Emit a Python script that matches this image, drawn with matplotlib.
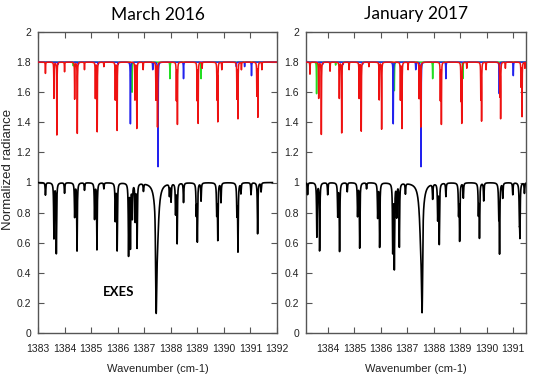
import numpy as np
import matplotlib
matplotlib.use("Agg")
import matplotlib.pyplot as plt

# ---------------- data ----------------
panel_titles = ["March 2016", "January 2017"]
xlims = [(1383.0, 1392.0), (1383.17, 1391.49)]
xticks_l = [1383, 1384, 1385, 1386, 1387, 1388, 1389, 1390, 1391, 1392]
xticks_r = [1384, 1385, 1386, 1387, 1388, 1389, 1390, 1391]
yticks = [0, 0.2, 0.4, 0.6, 0.8, 1, 1.2, 1.4, 1.6, 1.8, 2]
ytick_labels = ["0", "0.2", "0.4", "0.6", "0.8", "1", "1.2", "1.4", "1.6", "1.8", "2"]
exes_range = [(1383.0, 1391.83), (1383.17, 1391.49)]

# EXES observed spectra: line centres (cm-1) and line minima (normalized radiance)
mar_obs_pos = [1383.28, 1383.60, 1383.69, 1384.00, 1384.38, 1384.47, 1384.75, 1385.13,
               1385.22, 1385.48, 1385.91, 1385.98, 1386.41, 1386.48, 1386.55, 1386.66,
               1386.73, 1386.97, 1387.95, 1388.01, 1388.18, 1388.24, 1388.48, 1388.96,
               1389.00, 1389.14, 1389.73, 1389.77, 1389.89, 1390.49, 1390.53, 1390.64,
               1391.02, 1391.27, 1391.40]
mar_obs_min = [0.917, 0.63, 0.53, 0.93, 0.773, 0.547, 0.95, 0.76,
               0.555, 0.96, 0.75, 0.55, 0.518, 0.57, 0.77, 0.75,
               0.57, 0.95, 0.92, 0.88, 0.80, 0.60, 0.87, 0.80,
               0.615, 0.88, 0.80, 0.625, 0.87, 0.80, 0.547, 0.93,
               0.92, 0.66, 0.94]
mar_main = (1387.48, 0.50, 1387.45, 0.13)     # broad centre, broad min, core centre, core min

jan_obs_pos = [1383.23, 1383.58, 1383.685, 1383.99, 1384.37, 1384.44, 1384.73, 1385.12,
               1385.20, 1385.46, 1385.88, 1385.955, 1386.45, 1386.51, 1386.60, 1386.70,
               1386.93, 1387.96, 1388.15, 1388.21, 1388.46, 1388.94, 1388.98, 1389.12,
               1389.69, 1389.73, 1389.89, 1390.46, 1390.49, 1390.61, 1390.99, 1391.24,
               1391.26, 1391.43]
jan_obs_min = [0.92, 0.64, 0.545, 0.92, 0.78, 0.545, 0.94, 0.78,
               0.567, 0.96, 0.77, 0.57, 0.54, 0.43, 0.78, 0.575,
               0.93, 0.90, 0.76, 0.596, 0.91, 0.80, 0.62, 0.90,
               0.80, 0.64, 0.88, 0.80, 0.54, 0.90, 0.92, 0.78,
               0.667, 0.93]
jan_main = (1387.53, 0.49, 1387.56, 0.135)

# Model spectra (baseline 1.8): red, blue, green line lists (centre, minimum)
mar_red_pos = [1383.28, 1383.60, 1383.71, 1384.00, 1384.38, 1384.48, 1384.75, 1385.16,
               1385.23, 1385.48, 1385.91, 1385.98, 1386.65, 1386.72, 1386.96, 1387.44,
               1387.50, 1388.21, 1388.25, 1388.99, 1389.03, 1389.18, 1389.74, 1389.77,
               1389.92, 1390.49, 1390.53, 1390.66, 1391.24, 1391.28, 1391.43]
mar_red_min = [1.725, 1.56, 1.316, 1.736, 1.555, 1.327, 1.75, 1.56,
               1.338, 1.77, 1.55, 1.347, 1.55, 1.36, 1.75, 1.55,
               1.37, 1.55, 1.39, 1.55, 1.397, 1.76, 1.56, 1.41,
               1.75, 1.56, 1.427, 1.75, 1.58, 1.437, 1.75]
mar_blue_pos = [1383.75, 1384.52, 1385.27, 1386.02, 1386.48, 1387.32, 1387.52, 1388.48,
                1390.47, 1390.78, 1391.04]
mar_blue_min = [1.785, 1.785, 1.785, 1.785, 1.39, 1.75, 1.105, 1.69,
                1.77, 1.77, 1.71]
mar_green_pos = [1384.33, 1386.54, 1387.97, 1389.14]
mar_green_min = [1.775, 1.60, 1.69, 1.69]

jan_red_pos = [1383.32, 1383.65, 1383.75, 1384.08, 1384.43, 1384.52, 1384.80, 1385.18,
               1385.26, 1385.55, 1385.94, 1386.03, 1386.74, 1386.80, 1387.03, 1387.45,
               1387.51, 1388.25, 1388.29, 1389.03, 1389.06, 1389.25, 1389.78, 1389.81,
               1389.98, 1390.50, 1390.53, 1390.71, 1391.30, 1391.34, 1391.45]
jan_red_min = [1.72, 1.56, 1.32, 1.74, 1.56, 1.33, 1.75, 1.56,
               1.342, 1.77, 1.55, 1.355, 1.55, 1.36, 1.75, 1.56,
               1.37, 1.55, 1.39, 1.55, 1.40, 1.76, 1.56, 1.415,
               1.75, 1.58, 1.43, 1.76, 1.64, 1.44, 1.76]
jan_blue_pos = [1383.80, 1384.57, 1385.31, 1386.47, 1387.32, 1387.52, 1388.46, 1390.48,
                1391.01]
jan_blue_min = [1.785, 1.785, 1.785, 1.39, 1.75, 1.105, 1.69, 1.59,
                1.71]
jan_green_pos = [1383.57, 1384.29, 1386.51, 1387.96, 1389.10]
jan_green_min = [1.59, 1.78, 1.61, 1.69, 1.69]

BASE_OBS = 1.0
BASE_MOD = 1.8
W_OBS = 0.012   # Lorentz half widths (cm-1)
W_MOD = 0.006
W_BROAD = 0.065
S_CORE = 0.018


def lorentz(x, c, g):
    return g * g / ((x - c) ** 2 + g * g)


def spectrum(x, pos, mins, base, g):
    t = np.ones_like(x)
    for c, m in zip(pos, mins):
        t *= 1.0 - (base - m) / base * lorentz(x, c, g)
    return base * t


def observed(x, pos, mins, main):
    y = spectrum(x, pos, mins, BASE_OBS, W_OBS)
    bc, bmin, cc, cmin = main
    broad = 1.0 - (1.0 - bmin) * lorentz(x, bc, W_BROAD)
    broad_at_core = 1.0 - (1.0 - bmin) * lorentz(np.array([cc]), bc, W_BROAD)[0]
    core_depth = 1.0 - cmin / broad_at_core
    core = 1.0 - core_depth * np.exp(-0.5 * ((x - cc) / S_CORE) ** 2)
    return y * broad * core


def model(x, pos, mins):
    return spectrum(x, pos, mins, BASE_MOD, W_MOD)


panels = [
    dict(obs=(mar_obs_pos, mar_obs_min, mar_main), red=(mar_red_pos, mar_red_min),
         blue=(mar_blue_pos, mar_blue_min), green=(mar_green_pos, mar_green_min),
         xticks=xticks_l),
    dict(obs=(jan_obs_pos, jan_obs_min, jan_main), red=(jan_red_pos, jan_red_min),
         blue=(jan_blue_pos, jan_blue_min), green=(jan_green_pos, jan_green_min),
         xticks=xticks_r),
]

# ---------------- figure ----------------
TICK_FONT = ["Liberation Sans Narrow", "Liberation Sans", "DejaVu Sans"]
fig = plt.figure(figsize=(5.34, 3.79), dpi=100)
axes_rects = [[38 / 534, 1 - 333 / 379, 239 / 534, 301 / 379],
              [306 / 534, 1 - 333 / 379, 220 / 534, 301 / 379]]
frame_col = "#555555"
text_col = "#222222"

for i, (p, rect) in enumerate(zip(panels, axes_rects)):
    ax = fig.add_axes(rect)
    x0, x1 = xlims[i]
    xm = np.arange(x0, x1 + 0.001, 0.002)
    # model spectra
    ax.plot(xm, model(xm, *p["green"]), color="#22dd22", lw=1.1, zorder=2)
    ax.plot(xm, model(xm, *p["blue"]), color="#2222ee", lw=1.1, zorder=3)
    ax.plot(xm, model(xm, *p["red"]), color="#ee1111", lw=1.1, zorder=4)
    # observed spectrum
    e0, e1 = exes_range[i]
    xo = np.arange(e0, e1, 0.002)
    ax.plot(xo, observed(xo, *p["obs"]), color="black", lw=1.2, zorder=5)

    ax.set_xlim(x0, x1)
    ax.set_ylim(0, 2)
    ax.set_xticks(p["xticks"])
    ax.set_xticklabels([str(t) for t in p["xticks"]], family=TICK_FONT, fontsize=7.5,
                       color=text_col)
    ax.set_yticks(yticks)
    ax.set_yticklabels(ytick_labels, family=TICK_FONT, fontsize=7.5, color=text_col)
    ax.tick_params(direction="in", length=4, width=0.8, color=frame_col,
                   top=True, right=True, pad=5)
    ax.tick_params(axis="x", pad=8)
    for s in ax.spines.values():
        s.set_color(frame_col)
        s.set_linewidth(1.0)
    ax.set_xlabel("Wavenumber (cm-1)", family=TICK_FONT, fontsize=8, color=text_col,
                  labelpad=7)
    ax.set_title(panel_titles[i], family=["Lato", "DejaVu Sans"], fontsize=12.5, pad=9)
    if i == 0:
        ax.set_ylabel("Normalized radiance", family=["Liberation Sans", "DejaVu Sans"],
                      fontsize=9.5, color=text_col)
        ax.yaxis.set_label_coords(-0.1, 0.545)
        ax.text(1386.03, 0.27, "EXES", family=["Lato", "DejaVu Sans"], fontweight="bold",
                fontsize=9.5, ha="center", va="center")

fig.savefig("out.png", dpi=100)
